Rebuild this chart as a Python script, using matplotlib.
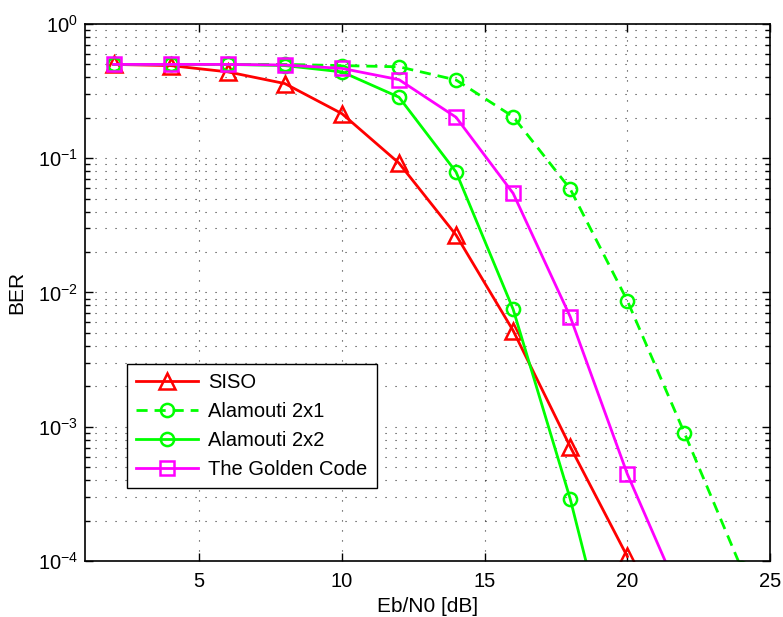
import numpy as np
import matplotlib
matplotlib.use("Agg")
import matplotlib.pyplot as plt
from matplotlib.ticker import LogLocator, NullFormatter

plt.rcParams['font.family'] = ['Liberation Sans', 'DejaVu Sans']
plt.rcParams['mathtext.fontset'] = 'custom'
plt.rcParams['mathtext.rm'] = 'Liberation Sans'
plt.rcParams['mathtext.default'] = 'regular'

# Eb/N0 points in dB
ebn0 = [2, 4, 6, 8, 10, 12, 14, 16, 18, 20, 22, 24]

ber_siso = [0.5, 0.49, 0.44, 0.36, 0.215, 0.092, 0.0268, 0.0052, 0.00071, 0.000108]
ber_ala21 = [0.5, 0.5, 0.5, 0.5, 0.49, 0.48, 0.383, 0.204, 0.059, 0.0087, 0.0009, 8.8e-5]
ber_ala22 = [0.5, 0.5, 0.5, 0.49, 0.44, 0.285, 0.079, 0.0075, 0.00029, 6e-6]
ber_golden = [0.5, 0.5, 0.5, 0.495, 0.467, 0.385, 0.202, 0.0548, 0.0066, 0.000445, 4.7e-5]

fig = plt.figure(figsize=(7.83, 6.17), dpi=100)
ax = fig.add_axes([0.1086, 0.0908, 0.8748, 0.8703])

ax.semilogy(ebn0[:len(ber_siso)], ber_siso, 'r-^', lw=2, ms=11.5, mew=1.8,
            fillstyle='none', label='SISO')
ax.semilogy(ebn0[:len(ber_ala21)], ber_ala21, color=(0, 1, 0), marker='o',
            linestyle=(0, (4, 2.5)), lw=2, ms=9.5, mew=1.8, fillstyle='none',
            label='Alamouti 2x1')
ax.semilogy(ebn0[:len(ber_ala22)], ber_ala22, color=(0, 1, 0), marker='o',
            linestyle='-', lw=2, ms=9.5, mew=1.8, fillstyle='none',
            label='Alamouti 2x2')
ax.semilogy(ebn0[:len(ber_golden)], ber_golden, color=(1, 0, 1), marker='s',
            linestyle='-', lw=2, ms=10, mew=1.8, fillstyle='none',
            label='The Golden Code')

ax.set_xlim(1, 25)
ax.set_ylim(1e-4, 1)
ax.set_xticks([5, 10, 15, 20, 25])
ax.yaxis.set_major_locator(LogLocator(base=10, numticks=10))
ax.yaxis.set_minor_locator(LogLocator(base=10, subs=np.arange(2, 10), numticks=10))
ax.yaxis.set_minor_formatter(NullFormatter())

# matlab-like grid: dotted, majors on x, majors + minors on y
grid_style = dict(color='k', linestyle=(0, (1, 8)), linewidth=0.8, alpha=0.8)
ax.grid(True, which='major', axis='both', **grid_style)
ax.grid(True, which='minor', axis='y', **grid_style)
ax.set_axisbelow(True)

ax.tick_params(which='both', direction='in', top=True, right=True,
               labelsize=14.5, width=1)
ax.tick_params(which='major', length=6, pad=5)
ax.tick_params(which='minor', length=3.5)
ax.tick_params(axis='x', pad=8)
for sp in ax.spines.values():
    sp.set_linewidth(1.2)

ax.set_xlabel('Eb/N0 [dB]', fontsize=15, labelpad=4)
ax.set_ylabel('BER', fontsize=15, labelpad=8)

leg = ax.legend(loc='lower left', bbox_to_anchor=(0.061, 0.136), fontsize=14.5,
                fancybox=False, framealpha=1, edgecolor='k', handlelength=3.1,
                handletextpad=0.5, borderaxespad=0, borderpad=0.45,
                labelspacing=0.5)
leg.get_frame().set_linewidth(1)

fig.savefig('out.png', dpi=100)
